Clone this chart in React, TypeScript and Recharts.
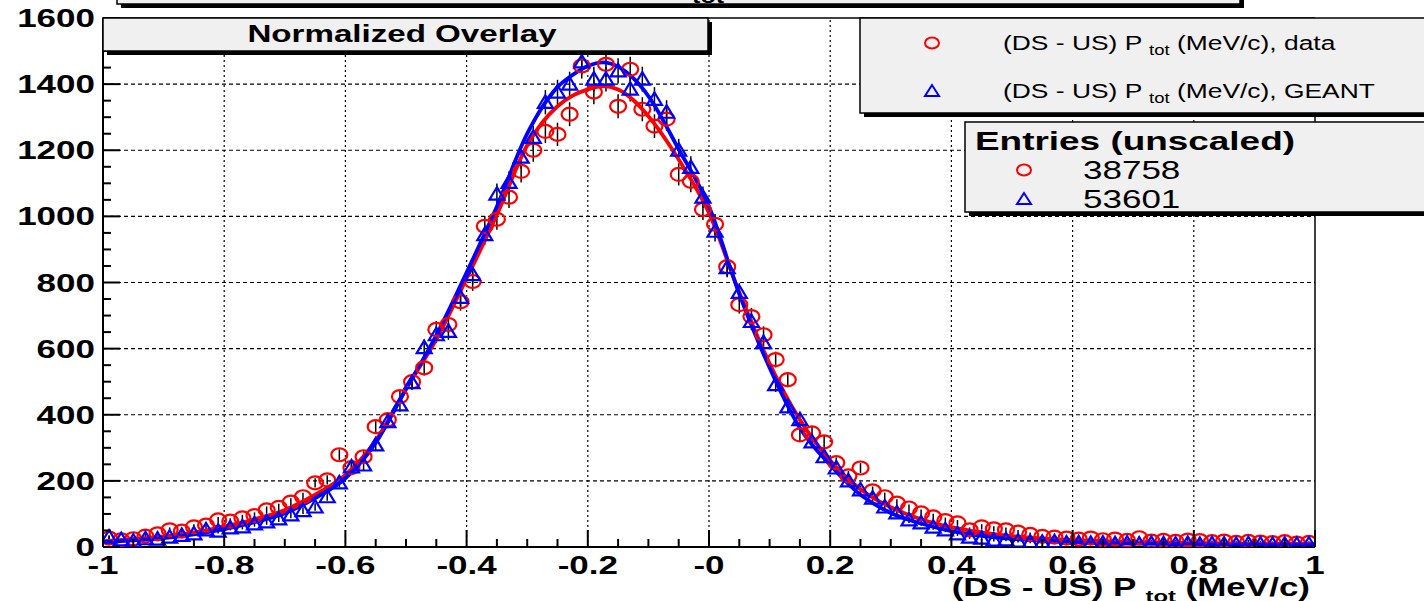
import React from "react";
import { ComposedChart, Line, Scatter, XAxis, YAxis, ReferenceLine, ErrorBar } from "recharts";

const FONT = "'Liberation Sans', Arial, Helvetica, sans-serif";
const RED = "#ff0000";
const BLUE = "#0000ff";
const SX = 1.4; // the original canvas was stretched sideways, text too

// histogram bin centres (width 0.02)
const BIN_X = [
  -0.99, -0.97, -0.95, -0.93, -0.91, -0.89, -0.87, -0.85, -0.83, -0.81,
  -0.79, -0.77, -0.75, -0.73, -0.71, -0.69, -0.67, -0.65, -0.63, -0.61,
  -0.59, -0.57, -0.55, -0.53, -0.51, -0.49, -0.47, -0.45, -0.43, -0.41,
  -0.39, -0.37, -0.35, -0.33, -0.31, -0.29, -0.27, -0.25, -0.23, -0.21,
  -0.19, -0.17, -0.15, -0.13, -0.11, -0.09, -0.07, -0.05, -0.03, -0.01,
  0.01, 0.03, 0.05, 0.07, 0.09, 0.11, 0.13, 0.15, 0.17, 0.19,
  0.21, 0.23, 0.25, 0.27, 0.29, 0.31, 0.33, 0.35, 0.37, 0.39,
  0.41, 0.43, 0.45, 0.47, 0.49, 0.51, 0.53, 0.55, 0.57, 0.59,
  0.61, 0.63, 0.65, 0.67, 0.69, 0.71, 0.73, 0.75, 0.77, 0.79,
  0.81, 0.83, 0.85, 0.87, 0.89, 0.91, 0.93, 0.95, 0.97, 0.99,
];

// (DS - US) Ptot, data (normalized)
const DATA_COUNTS = [
  27, 22, 25, 33, 40, 52, 48, 61, 66, 82,
  78, 88, 95, 112, 120, 136, 152, 194, 203, 279,
  240, 273, 364, 385, 455, 500, 542, 658, 673, 742,
  803, 970, 991, 1058, 1136, 1200, 1257, 1248, 1309, 1455,
  1376, 1460, 1333, 1445, 1324, 1273, 1294, 1127, 1106, 1021,
  976, 848, 733, 697, 642, 567, 506, 339, 345, 318,
  255, 215, 239, 170, 152, 133, 118, 103, 91, 80,
  73, 52, 61, 55, 52, 45, 38, 32, 30, 27,
  24, 27, 22, 24, 20, 28, 18, 20, 17, 21,
  19, 16, 18, 14, 17, 15, 13, 16, 12, 14,
];

// (DS - US) Ptot, GEANT (normalized)
const GEANT_COUNTS = [
  30, 22, 18, 25, 24, 30, 35, 40, 52, 48,
  58, 61, 70, 76, 85, 97, 110, 121, 152, 194,
  242, 248, 309, 379, 430, 497, 603, 642, 652, 755,
  824, 945, 1067, 1103, 1179, 1239, 1345, 1376, 1400, 1467,
  1415, 1415, 1440, 1385, 1415, 1354, 1315, 1200, 1148, 1058,
  955, 845, 770, 682, 618, 491, 424, 385, 318, 273,
  239, 200, 173, 148, 121, 103, 82, 73, 60, 52,
  40, 30, 27, 21, 22, 18, 15, 14, 16, 12,
  13, 11, 12, 10, 12, 9, 11, 10, 9, 11,
  8, 10, 9, 8, 10, 9, 8, 9, 8, 9,
];

// fitted curves
const FIT_X = [
  -1, -0.95, -0.9, -0.85, -0.8, -0.75, -0.7, -0.65, -0.6, -0.55, -0.5, -0.45, -0.4, -0.35, -0.3, -0.25,
  -0.225, -0.2, -0.175, -0.15, -0.125, -0.1,
  -0.05, 0, 0.05, 0.1, 0.15, 0.2, 0.25, 0.3, 0.35, 0.4, 0.45, 0.5, 0.55, 0.6, 0.65, 0.7, 0.75, 0.8, 0.85, 0.9, 0.95, 1,
];
const DATA_FIT = [
  18, 24, 32, 44, 62, 84, 112, 158, 218, 322, 478, 628, 812, 1005, 1215, 1333,
  1365, 1384, 1394, 1384, 1352, 1303,
  1172, 1010, 770, 555, 385, 262, 175, 120, 84, 60, 44, 33, 26, 21, 18, 15, 13, 12, 11, 10, 9, 9,
];
const GEANT_FIT = [
  15, 20, 27, 38, 54, 75, 102, 148, 208, 315, 478, 640, 830, 1030, 1250, 1391,
  1428, 1455, 1466, 1453, 1418, 1364,
  1203, 1030, 765, 542, 360, 248, 158, 103, 71, 48, 34, 25, 19, 15, 12, 10, 9, 8, 7, 7, 6, 6,
];

const ENTRIES = ["38758", "53601"];

const X_MAJOR = [-1, -0.8, -0.6, -0.4, -0.2, 0, 0.2, 0.4, 0.6, 0.8, 1];
const X_LABELS = ["-1", "-0.8", "-0.6", "-0.4", "-0.2", "-0", "0.2", "0.4", "0.6", "0.8", "1"];
const X_TICKS = [
  -1, -0.95, -0.9, -0.85, -0.8, -0.75, -0.7, -0.65, -0.6, -0.55, -0.5, -0.45, -0.4, -0.35, -0.3, -0.25, -0.2,
  -0.15, -0.1, -0.05, 0, 0.05, 0.1, 0.15, 0.2, 0.25, 0.3, 0.35, 0.4, 0.45, 0.5, 0.55, 0.6, 0.65, 0.7, 0.75,
  0.8, 0.85, 0.9, 0.95, 1,
];
const Y_MAJOR = [0, 200, 400, 600, 800, 1000, 1200, 1400, 1600];
const Y_TICKS = [
  0, 50, 100, 150, 200, 250, 300, 350, 400, 450, 500, 550, 600, 650, 700, 750, 800, 850, 900, 950, 1000,
  1050, 1100, 1150, 1200, 1250, 1300, 1350, 1400, 1450, 1500, 1550, 1600,
];

const dataPoints = BIN_X.map((x, i) => ({ x, y: DATA_COUNTS[i], err: Math.sqrt(DATA_COUNTS[i]) }));
const geantPoints = BIN_X.map((x, i) => ({ x, y: GEANT_COUNTS[i], err: Math.sqrt(GEANT_COUNTS[i]) }));
const dataFit = FIT_X.map((x, i) => ({ x, y: DATA_FIT[i] }));
const geantFit = FIT_X.map((x, i) => ({ x, y: GEANT_FIT[i] }));

const Circle = ({ cx, cy }: any) => (
  <ellipse cx={cx} cy={cy} rx={8} ry={6.5} fill="none" stroke={RED} strokeWidth={2.2} />
);
const Triangle = ({ cx, cy }: any) => (
  <polygon
    points={`${cx},${cy - 7} ${cx - 7.5},${cy + 5.5} ${cx + 7.5},${cy + 5.5}`}
    fill="none"
    stroke={BLUE}
    strokeWidth={2.2}
  />
);

const XTick = ({ x, y, payload }: any) => {
  const i = X_MAJOR.findIndex((m) => Math.abs(m - payload.value) < 1e-6);
  const major = i >= 0;
  return (
    <g>
      <line x1={x} x2={x} y1={y} y2={y - (major ? 17 : 8)} stroke="#000" strokeWidth={2} />
      {major && (
        <text
          transform={`translate(${x},${y + 27}) scale(${SX},1)`}
          textAnchor="middle"
          fontFamily={FONT}
          fontWeight="bold"
          fontSize={25}
          fill="#000"
        >
          {X_LABELS[i]}
        </text>
      )}
    </g>
  );
};

const YTick = ({ x, y, payload }: any) => {
  const major = Y_MAJOR.includes(payload.value);
  return (
    <g>
      <line x1={x} x2={x + (major ? 17 : 8)} y1={y} y2={y} stroke="#000" strokeWidth={2} />
      {major && (
        <text
          transform={`translate(${x - 8},${y + 9}) scale(${SX},1)`}
          textAnchor="end"
          fontFamily={FONT}
          fontWeight="bold"
          fontSize={25}
          fill="#000"
        >
          {payload.value}
        </text>
      )}
    </g>
  );
};

function Pave({ x, y, w, h }: { x: number; y: number; w: number; h: number }) {
  return (
    <g>
      <rect x={x + 4} y={y + 4} width={w} height={h} fill="#000" />
      <rect x={x} y={y} width={w} height={h} fill="#f0f0f0" stroke="#000" strokeWidth={1.5} />
    </g>
  );
}

function Overlay() {
  return (
    <svg width={1424} height={601} style={{ position: "absolute", left: 0, top: 0, pointerEvents: "none" }}>
      {/* title pave, mostly off the top of the canvas */}
      <Pave x={117} y={-40} w={1123} h={44} />
      <text transform={`translate(688,-12) scale(${SX},1)`} textAnchor="end" fontFamily={FONT} fontWeight="bold" fontSize={26}>
        (DS - US) P
      </text>
      <text transform={`translate(692,3) scale(${SX},1)`} fontFamily={FONT} fontWeight="bold" fontSize={18}>
        tot
      </text>

      {/* Normalized Overlay label */}
      <Pave x={103} y={18} w={605} h={33} />
      <text transform={`translate(402,42) scale(1.38,1)`} textAnchor="middle" fontFamily={FONT} fontWeight="bold" fontSize={24}>
        Normalized Overlay
      </text>

      {/* legend */}
      <Pave x={860} y={18} w={600} h={95} />
      <ellipse cx={932} cy={43} rx={7} ry={5.5} fill="none" stroke={RED} strokeWidth={2} />
      <text transform={`translate(1003,50) scale(1.32,1)`} fontFamily={FONT} fontSize={20}>
        (DS - US) P <tspan fontSize={14} dy={5}>tot</tspan>
        <tspan dy={-5}> (MeV/c), data</tspan>
      </text>
      <polygon points="932,85 925,96 939,96" fill="none" stroke={BLUE} strokeWidth={2} />
      <text transform={`translate(1003,98) scale(1.32,1)`} fontFamily={FONT} fontSize={20}>
        (DS - US) P <tspan fontSize={14} dy={5}>tot</tspan>
        <tspan dy={-5}> (MeV/c), GEANT</tspan>
      </text>

      {/* entries box */}
      <Pave x={965} y={122} w={600} h={90} />
      <text transform={`translate(975,150) scale(1.42,1)`} fontFamily={FONT} fontWeight="bold" fontSize={26}>
        Entries (unscaled)
      </text>
      <ellipse cx={1024} cy={170} rx={7} ry={5.5} fill="none" stroke={RED} strokeWidth={2} />
      <text transform={`translate(1083,179) scale(1.4,1)`} fontFamily={FONT} fontSize={25}>
        {ENTRIES[0]}
      </text>
      <polygon points="1024,193 1017,204 1031,204" fill="none" stroke={BLUE} strokeWidth={2} />
      <text transform={`translate(1083,208) scale(1.4,1)`} fontFamily={FONT} fontSize={25}>
        {ENTRIES[1]}
      </text>

      {/* x axis title */}
      <text transform={`translate(1310,596) scale(1.4,1)`} textAnchor="end" fontFamily={FONT} fontWeight="bold" fontSize={25}>
        (DS - US) P <tspan fontSize={17} dy={6}>tot</tspan>
        <tspan dy={-6}> (MeV/c)</tspan>
      </text>
    </svg>
  );
}

export default function App() {
  return (
    <div style={{ position: "absolute", left: 0, top: 0, width: 1424, height: 601, background: "#fff", overflow: "hidden" }}>
      <ComposedChart width={1424} height={601} margin={{ top: 18, right: 109, bottom: 0, left: 13 }}>
        <XAxis
          type="number"
          dataKey="x"
          domain={[-1, 1]}
          allowDataOverflow
          ticks={X_TICKS}
          interval={0}
          tickSize={0}
          tickMargin={0}
          height={54}
          axisLine={{ stroke: "#000", strokeWidth: 2 }}
          tick={(p: any) => <XTick {...p} />}
        />
        <YAxis
          type="number"
          dataKey="y"
          domain={[0, 1600]}
          allowDataOverflow
          ticks={Y_TICKS}
          interval={0}
          tickSize={0}
          tickMargin={0}
          width={90}
          axisLine={{ stroke: "#000", strokeWidth: 2 }}
          tick={(p: any) => <YTick {...p} />}
        />
        {X_MAJOR.slice(1, -1).map((v) => (
          <ReferenceLine key={"gx" + v} x={v} stroke="#000" strokeWidth={1.2} strokeDasharray="2 3" />
        ))}
        {Y_MAJOR.slice(1, -1).map((v) => (
          <ReferenceLine key={"gy" + v} y={v} stroke="#000" strokeWidth={1.2} strokeDasharray="4 3" />
        ))}
        <ReferenceLine y={1600} stroke="#000" strokeWidth={1.5} />
        <ReferenceLine x={1} stroke="#000" strokeWidth={1.5} />

        <Scatter data={dataPoints} shape={Circle} isAnimationActive={false}>
          <ErrorBar dataKey="err" direction="y" width={0} stroke="#000" strokeWidth={1.5} />
        </Scatter>
        <Scatter data={geantPoints} shape={Triangle} isAnimationActive={false}>
          <ErrorBar dataKey="err" direction="y" width={0} stroke="#000" strokeWidth={1.5} />
        </Scatter>
        <Line data={dataFit} dataKey="y" type="monotone" stroke={RED} strokeWidth={3.8} dot={false} activeDot={false} isAnimationActive={false} />
        <Line data={geantFit} dataKey="y" type="monotone" stroke={BLUE} strokeWidth={3.8} dot={false} activeDot={false} isAnimationActive={false} />
      </ComposedChart>
      <Overlay />
    </div>
  );
}
